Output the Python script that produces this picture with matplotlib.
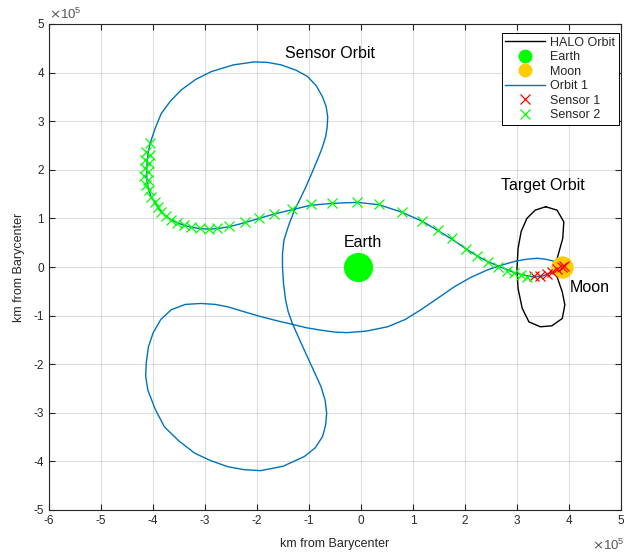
import matplotlib
matplotlib.use("Agg")
import matplotlib.pyplot as plt
import numpy as np

plt.rcParams['font.family'] = ['Liberation Sans', 'DejaVu Sans']
plt.rcParams['axes.unicode_minus'] = False

SCALE = 1e5  # values below are in units of 1e5 km

# Sensor orbit (Orbit 1), closed path
orbit_x = [3.87, 3.83, 3.67, 3.48, 3.29, 3.10, 2.91, 2.68, 2.44, 2.23, 2.01, 1.75, 1.48, 1.18, 0.78, 0.35,
           -0.07, -0.55, -0.97, -1.32, -1.67, -1.96, -2.24, -2.53, -2.76, -2.93, -3.10, -3.27, -3.41, -3.53,
           -3.65, -3.75, -3.84, -3.91, -3.97, -4.04, -4.08, -4.11, -4.12, -4.12, -4.11, -4.09, -4.05,
           -3.96, -3.84, -3.66, -3.46, -3.18, -2.88, -2.45, -2.05, -1.80, -1.54, -1.25, -1.03, -0.86, -0.74,
           -0.67, -0.64, -0.65, -0.68, -0.75, -0.84, -0.95, -1.06, -1.17, -1.28, -1.39, -1.48, -1.51, -1.51,
           -1.49, -1.45, -1.40, -1.32, -1.18, -1.03, -0.90, -0.77, -0.69, -0.66, -0.68, -0.74, -0.88, -1.09,
           -1.50, -1.93, -2.25, -2.56, -2.90, -3.20, -3.50, -3.78, -3.96, -4.10, -4.14, -4.13, -4.09, -4.00,
           -3.85, -3.65, -3.38, -3.08, -2.80, -2.56, -2.25, -1.93, -1.60, -1.32, -1.05, -0.77, -0.50, -0.26,
           0.10, 0.51, 0.85, 1.15, 1.48, 1.79, 2.10, 2.43, 2.71, 2.97, 3.19, 3.39, 3.55, 3.71, 3.80, 3.87]
orbit_y = [0.02, -0.01, -0.11, -0.19, -0.20, -0.16, -0.10, 0.00, 0.11, 0.23, 0.38, 0.57, 0.75, 0.94, 1.13, 1.28,
           1.33, 1.31, 1.27, 1.18, 1.09, 1.00, 0.91, 0.83, 0.79, 0.78, 0.79, 0.82, 0.86, 0.91,
           0.97, 1.04, 1.14, 1.24, 1.34, 1.45, 1.58, 1.72, 1.87, 2.03, 2.20, 2.37, 2.56,
           2.85, 3.16, 3.42, 3.64, 3.86, 4.02, 4.16, 4.22, 4.21, 4.16, 4.05, 3.92, 3.73, 3.50,
           3.30, 3.09, 2.88, 2.68, 2.44, 2.20, 1.92, 1.65, 1.40, 1.17, 0.86, 0.56, 0.28, 0.00,
           -0.34, -0.68, -0.92, -1.16, -1.50, -1.85, -2.15, -2.46, -2.74, -3.01, -3.25, -3.49, -3.72, -3.90,
           -4.10, -4.19, -4.17, -4.11, -3.98, -3.83, -3.58, -3.29, -2.92, -2.53, -2.25, -1.98, -1.65, -1.36,
           -1.08, -0.88, -0.77, -0.75, -0.77, -0.82, -0.92, -1.02, -1.11, -1.18, -1.25, -1.30, -1.34, -1.35,
           -1.32, -1.23, -1.08, -0.88, -0.64, -0.41, -0.22, -0.06, 0.04, 0.12, 0.16, 0.18, 0.16, 0.12, 0.06, 0.02]

# Target HALO orbit around the Moon
halo_x = [3.55, 3.77, 3.90, 3.88, 3.80, 3.74, 3.77, 3.87, 3.92, 3.87, 3.67, 3.45, 3.23, 3.10, 3.02,
          3.00, 3.02, 3.08, 3.19, 3.35, 3.55]
halo_y = [1.24, 1.17, 0.93, 0.59, 0.28, 0.06, -0.20, -0.51, -0.78, -1.06, -1.21, -1.23, -1.13, -0.85, -0.44,
          -0.03, 0.38, 0.73, 1.00, 1.17, 1.24]

# Sensor positions
sensor1_x = [3.32, 3.45, 3.58, 3.67, 3.77, 3.87, 3.90]
sensor1_y = [-0.19, -0.19, -0.15, -0.11, -0.04, 0.01, 0.02]

sensor2_x = [-4.05, -4.13, -4.06, -4.15, -4.07, -4.16, -4.09, -4.17, -4.09, -4.13, -4.07, -4.04, -3.97, -3.91,
             -3.84, -3.75, -3.65, -3.53, -3.41, -3.27, -3.10, -2.93, -2.76, -2.53, -2.24, -1.96, -1.67, -1.32,
             -0.97, -0.55, -0.07, 0.35, 0.78, 1.18, 1.48, 1.75, 2.01, 2.23, 2.44, 2.64, 2.81, 2.94, 3.07, 3.19]
sensor2_y = [2.56, 2.37, 2.30, 2.20, 2.13, 2.03, 1.96, 1.87, 1.79, 1.69, 1.58, 1.45, 1.34, 1.24,
             1.14, 1.04, 0.97, 0.91, 0.86, 0.82, 0.80, 0.78, 0.80, 0.84, 0.93, 1.01, 1.10, 1.19,
             1.30, 1.32, 1.34, 1.30, 1.14, 0.95, 0.76, 0.59, 0.38, 0.23, 0.11, 0.01, -0.08, -0.12, -0.16, -0.20]

earth_pos = (-0.05, 0.0)
moon_pos = (3.87, 0.01)

labels = ["HALO Orbit", "Earth", "Moon", "Orbit 1", "Sensor 1", "Sensor 2"]
annotations = [("Sensor Orbit", -0.60, 4.40), ("Target Orbit", 3.50, 1.67),
               ("Earth", 0.03, 0.51), ("Moon", 4.40, -0.43)]

xticks = list(range(-6, 6))
yticks = list(range(-5, 6))

def s(v):
    return np.asarray(v) * SCALE

W, H = 626, 558
fig = plt.figure(figsize=(W / 100, H / 100), dpi=100)
left, right, bottom, top = 49, 621, 510, 24
ax = fig.add_axes([left / W, (H - bottom) / H, (right - left) / W, (bottom - top) / H])

blue = '#0072BD'
l_halo, = ax.plot(s(halo_x), s(halo_y), color='black', lw=1.0, zorder=3)
l_earth, = ax.plot(s([earth_pos[0]]), s([earth_pos[1]]), 'o', color='#00FF00', ms=20, zorder=4)
l_moon, = ax.plot(s([moon_pos[0]]), s([moon_pos[1]]), 'o', color='#FFCC00', ms=15, zorder=4)
l_orbit, = ax.plot(s(orbit_x), s(orbit_y), color=blue, lw=1.0, zorder=3)
l_s1, = ax.plot(s(sensor1_x), s(sensor1_y), 'x', color='#FF0000', ms=7, mew=0.9, ls='none', zorder=5)
l_s2, = ax.plot(s(sensor2_x), s(sensor2_y), 'x', color='#00FF00', ms=7, mew=0.9, ls='none', zorder=5)

for txt, x, y in annotations:
    ax.text(s(x), s(y), txt, ha='center', va='center', fontsize=11.5, color='black')

ax.set_xlim(-6 * SCALE, 5 * SCALE)
ax.set_ylim(-5 * SCALE, 5 * SCALE)
ax.set_xticks(s(xticks))
ax.set_yticks(s(yticks))
ax.set_xticklabels([str(t) for t in xticks])
ax.set_yticklabels([str(t) for t in yticks])

# exponent labels as drawn by the reference
fig.text(left / W, 1 - 14 / H, r"$\times\mathdefault{10^{5}}$", fontsize=9.5, color='#555555',
         ha='left', va='center')
fig.text(625 / W, 1 - 545 / H, r"$\times\mathdefault{10^{5}}$", fontsize=9.5, color='#555555',
         ha='right', va='center')

ax.grid(True, color='#262626', alpha=0.15, lw=0.8)
ax.set_axisbelow(True)
ax.tick_params(direction='in', top=True, right=True, labelsize=8.5, colors='#262626',
               length=4, width=0.8)
for sp in ax.spines.values():
    sp.set_color('#262626')
    sp.set_linewidth(0.8)

ax.set_xlabel("km from Barycenter", fontsize=9, color='#262626', labelpad=8)
ax.set_ylabel("km from Barycenter", fontsize=9, color='#262626', labelpad=6)

leg = ax.legend([l_halo, l_earth, l_moon, l_orbit, l_s1, l_s2], labels,
                loc='upper right', bbox_to_anchor=((619 - left) / (right - left), (bottom - 33) / (bottom - top)),
                borderaxespad=0, fontsize=9, fancybox=False, edgecolor='black', framealpha=1,
                handlelength=3.2, labelspacing=0.2, borderpad=0.3, handletextpad=0.4)
leg.get_frame().set_linewidth(0.7)
for t in leg.get_texts():
    t.set_color('#262626')
for h in leg.legend_handles:
    if h.get_marker() == 'o':
        h.set_markersize(9)

fig.savefig("out.png", dpi=100)
